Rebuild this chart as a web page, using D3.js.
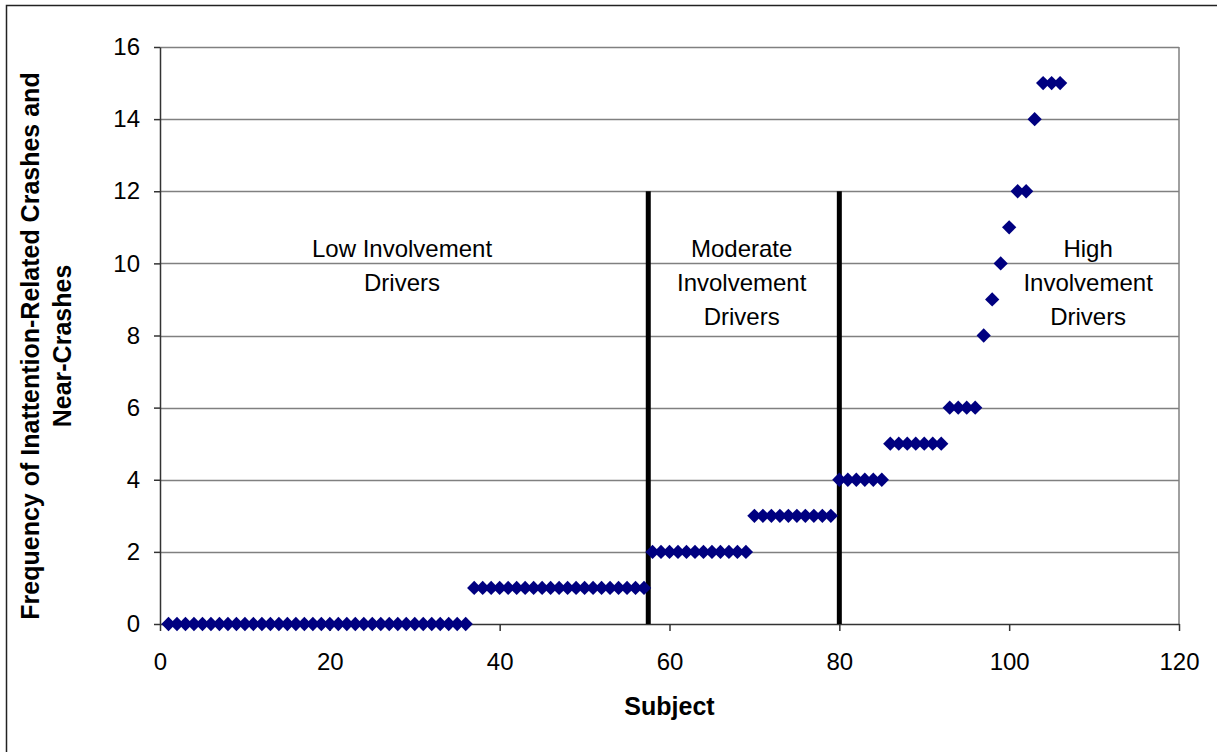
<!DOCTYPE html>
<html>
<head>
<meta charset="utf-8">
<script src="https://cdn.jsdelivr.net/npm/d3@7"></script>
<style>
body { margin: 0; background: #fff; }
svg text { font-family: "Liberation Sans", Arial, sans-serif; }
</style>
</head>
<body>
<div id="chart"></div>
<script>
// subject number and its count of inattention-related crashes/near-crashes
var subjects = d3.range(1, 107);
var counts = [].concat(
  d3.range(36).map(function(){ return 0; }),   // 1-36
  d3.range(21).map(function(){ return 1; }),   // 37-57
  d3.range(12).map(function(){ return 2; }),   // 58-69
  d3.range(10).map(function(){ return 3; }),   // 70-79
  d3.range(6).map(function(){ return 4; }),    // 80-85
  d3.range(7).map(function(){ return 5; }),    // 86-92
  d3.range(4).map(function(){ return 6; }),    // 93-96
  [8, 9, 10, 11, 12, 12, 14, 15, 15, 15]       // 97-106
);
var dividers = [57.5, 80];
var dividerTop = 12;
var xTicks = [0, 20, 40, 60, 80, 100, 120];
var yTicks = [0, 2, 4, 6, 8, 10, 12, 14, 16];
var groupLabels = [
  {x: 28.5, lines: ["Low Involvement", "Drivers"]},
  {x: 68.5, lines: ["Moderate", "Involvement", "Drivers"]},
  {x: 109.3, lines: ["High", "Involvement", "Drivers"]}
];

var W = 1217, H = 752;
var margin = {top: 48, right: 38, bottom: 128, left: 160};
var fs = 24;

var svg = d3.select("#chart").append("svg")
  .attr("width", W).attr("height", H);

// outer frame (only top/left edges show)
svg.append("rect")
  .attr("x", 6.5).attr("y", 5.5)
  .attr("width", W + 20).attr("height", H + 20)
  .attr("fill", "none").attr("stroke", "#222").attr("stroke-width", 1.5);

var xScale = d3.scaleLinear().domain([0, 120]).range([margin.left, W - margin.right]);
var yScale = d3.scaleLinear().domain([0, 16]).range([H - margin.bottom, margin.top - 1]);

// gridlines
svg.append("g").selectAll("line")
  .data(yTicks.slice(1))
  .enter().append("line")
  .attr("x1", xScale(0)).attr("x2", xScale(120))
  .attr("y1", function(d){ return Math.round(yScale(d)) + 0.5; })
  .attr("y2", function(d){ return Math.round(yScale(d)) + 0.5; })
  .attr("stroke", "#808080").attr("stroke-width", 1.5);

// right border of plot area
svg.append("line")
  .attr("x1", xScale(120)).attr("x2", xScale(120))
  .attr("y1", yScale(16)).attr("y2", yScale(0))
  .attr("stroke", "#808080").attr("stroke-width", 1.5);

var xAxis = d3.axisBottom(xScale).tickValues(xTicks).tickSizeInner(7).tickSizeOuter(0).tickPadding(22);
var yAxis = d3.axisLeft(yScale).tickValues(yTicks).tickSizeInner(6).tickSizeOuter(0).tickPadding(14);

var xg = svg.append("g")
  .attr("transform", "translate(0," + yScale(0) + ")")
  .call(xAxis);
var yg = svg.append("g")
  .attr("transform", "translate(" + xScale(0) + ",0)")
  .call(yAxis);

[xg, yg].forEach(function(g){
  g.selectAll("path, line").attr("stroke", "#333").attr("stroke-width", 1.5);
  g.selectAll("text").attr("font-size", fs).attr("fill", "#000")
    .style("font-family", "'Liberation Sans', Arial, sans-serif");
});

// divider lines
svg.append("g").selectAll("line")
  .data(dividers)
  .enter().append("line")
  .attr("x1", function(d){ return xScale(d); })
  .attr("x2", function(d){ return xScale(d); })
  .attr("y1", yScale(dividerTop)).attr("y2", yScale(0))
  .attr("stroke", "#000").attr("stroke-width", 5);

// points
svg.append("g").selectAll("path")
  .data(subjects)
  .enter().append("path")
  .attr("d", d3.symbol().type(d3.symbolDiamond2).size(130))
  .attr("transform", function(d, i){
    return "translate(" + xScale(d) + "," + yScale(counts[i]) + ")";
  })
  .attr("fill", "#000080");

// group labels
groupLabels.forEach(function(g){
  var t = svg.append("text")
    .attr("text-anchor", "middle")
    .attr("font-size", fs)
    .attr("fill", "#000");
  g.lines.forEach(function(l, i){
    t.append("tspan")
      .attr("x", xScale(g.x))
      .attr("y", 257 + i * 34)
      .text(l);
  });
});

// axis titles
svg.append("text")
  .attr("x", xScale(60)).attr("y", 715)
  .attr("text-anchor", "middle")
  .attr("font-size", 25).attr("font-weight", "bold")
  .text("Subject");

var yt = svg.append("text")
  .attr("transform", "translate(39," + 346 + ") rotate(-90)")
  .attr("text-anchor", "middle")
  .attr("font-size", 25).attr("font-weight", "bold");
yt.append("tspan").attr("x", 0).attr("y", 0).text("Frequency of Inattention-Related Crashes and");
yt.append("tspan").attr("x", 0).attr("y", 32).text("Near-Crashes");
</script>
</body>
</html>
